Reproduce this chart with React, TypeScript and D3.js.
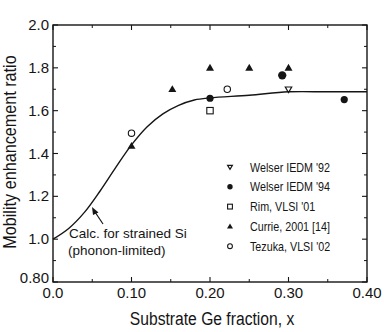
import React from "react";
import * as d3 from "d3";

const W = 384;
const H = 332;

const xTicks = [0.0, 0.1, 0.2, 0.3, 0.4];
const xTickLabels = ["0.0", "0.10", "0.20", "0.30", "0.40"];
const yTicks = [0.8, 1.0, 1.2, 1.4, 1.6, 1.8, 2.0];
const yTickLabels = ["0.80", "1.0", "1.2", "1.4", "1.6", "1.8", "2.0"];

// Calculated curve (phonon-limited strained Si)
const calcX = [0, 0.02, 0.04, 0.06, 0.08, 0.1, 0.12, 0.14, 0.16, 0.18, 0.2, 0.25, 0.3, 0.35, 0.4];
const calcY = [1.0, 1.05, 1.125, 1.225, 1.335, 1.44, 1.525, 1.585, 1.625, 1.65, 1.66, 1.672, 1.688, 1.688, 1.688];

const welser92X = [0.3];
const welser92Y = [1.7];
const welser94X = [0.2, 0.292, 0.371];
const welser94Y = [1.658, 1.765, 1.652];
const rimX = [0.2];
const rimY = [1.6];
const currieX = [0.1, 0.152, 0.2, 0.25, 0.3];
const currieY = [1.435, 1.7, 1.8, 1.8, 1.8];
const tezukaX = [0.1, 0.222];
const tezukaY = [1.495, 1.7];

const legendLabels = [
  "Welser IEDM '92",
  "Welser IEDM '94",
  "Rim, VLSI '01",
  "Currie, 2001 [14]",
  "Tezuka, VLSI '02",
];

const FONT = "Arial, 'Liberation Sans', sans-serif";
const INK = "#151515";

const x = d3.scaleLinear().domain([0, 0.4]).range([53, 367]);
const y = d3.scaleLinear().domain([0.8, 2.0]).range([282, 25]);

function NText({
  tx,
  ty,
  sx = 1,
  rot = 0,
  size,
  anchor = "start",
  children,
}: {
  tx: number;
  ty: number;
  sx?: number;
  rot?: number;
  size: number;
  anchor?: string;
  children: React.ReactNode;
}) {
  return (
    <g transform={`translate(${tx},${ty}) rotate(${rot}) scale(${sx},1)`}>
      <text x={0} y={0} textAnchor={anchor as any} fontFamily={FONT} fontSize={size} fill={INK}>
        {children}
      </text>
    </g>
  );
}

function Marker({ kind, cx, cy, s = 1 }: { kind: string; cx: number; cy: number; s?: number }) {
  if (kind === "v") {
    const r = 3.2 * s;
    return (
      <path
        d={`M${cx - r},${cy - r * 0.7} L${cx + r},${cy - r * 0.7} L${cx},${cy + r}Z`}
        fill="none"
        stroke={INK}
        strokeWidth={1.2}
      />
    );
  }
  if (kind === "fc") return <circle cx={cx} cy={cy} r={3.6 * s} fill={INK} />;
  if (kind === "sq") {
    const r = 3.2 * s;
    return <rect x={cx - r} y={cy - r} width={2 * r} height={2 * r} fill="white" stroke={INK} strokeWidth={1.1} />;
  }
  if (kind === "tri") {
    const r = 4 * s;
    return <path d={`M${cx},${cy - r} L${cx + r},${cy + r * 0.7} L${cx - r},${cy + r * 0.7}Z`} fill={INK} />;
  }
  return <circle cx={cx} cy={cy} r={3.2 * s} fill="white" stroke={INK} strokeWidth={1.1} />;
}

export default function App() {
  const line = d3
    .line<number>()
    .x((_, i) => x(calcX[i]))
    .y((d) => y(d))
    .curve(d3.curveCatmullRom.alpha(0.5));
  const calcPath = line(calcY) || "";

  const minorX = d3.range(0.05, 0.4, 0.1);
  const minorY = d3.range(0.9, 2.0, 0.2);

  const series = [
    { kind: "v", xs: welser92X, ys: welser92Y },
    { kind: "fc", xs: welser94X, ys: welser94Y },
    { kind: "sq", xs: rimX, ys: rimY },
    { kind: "tri", xs: currieX, ys: currieY },
    { kind: "oc", xs: tezukaX, ys: tezukaY },
  ];

  const legKinds = ["v", "fc", "sq", "tri", "oc"];

  return (
    <svg width={W} height={H} style={{ display: "block", position: "absolute", left: 0, top: 0, background: "white" }}>
      <rect x={0} y={0} width={W} height={H} fill="white" />
      {/* frame */}
      <rect x={x(0)} y={y(2.0)} width={x(0.4) - x(0)} height={y(0.8) - y(2.0)} fill="none" stroke={INK} strokeWidth={1.4} />
      {/* major ticks */}
      {xTicks.map((t) => (
        <g key={"xt" + t}>
          <line x1={x(t)} x2={x(t)} y1={y(0.8)} y2={y(0.8) - 5} stroke={INK} strokeWidth={1.1} />
          <line x1={x(t)} x2={x(t)} y1={y(2.0)} y2={y(2.0) + 5} stroke={INK} strokeWidth={1.1} />
        </g>
      ))}
      {minorX.map((t) => (
        <g key={"xm" + t}>
          <line x1={x(t)} x2={x(t)} y1={y(0.8)} y2={y(0.8) - 3} stroke={INK} strokeWidth={1} />
          <line x1={x(t)} x2={x(t)} y1={y(2.0)} y2={y(2.0) + 3} stroke={INK} strokeWidth={1} />
        </g>
      ))}
      {yTicks.map((t) => (
        <g key={"yt" + t}>
          <line x1={x(0)} x2={x(0) + 5} y1={y(t)} y2={y(t)} stroke={INK} strokeWidth={1.1} />
          <line x1={x(0.4)} x2={x(0.4) - 5} y1={y(t)} y2={y(t)} stroke={INK} strokeWidth={1.1} />
        </g>
      ))}
      {minorY.map((t) => (
        <g key={"ym" + t}>
          <line x1={x(0)} x2={x(0) + 3} y1={y(t)} y2={y(t)} stroke={INK} strokeWidth={1} />
          <line x1={x(0.4)} x2={x(0.4) - 3} y1={y(t)} y2={y(t)} stroke={INK} strokeWidth={1} />
        </g>
      ))}
      {/* tick labels */}
      {xTicks.map((t, i) => (
        <text key={"xl" + t} x={x(t)} y={298} textAnchor="middle" fontFamily={FONT} fontSize={15} fill={INK}>
          {xTickLabels[i]}
        </text>
      ))}
      {yTicks.map((t, i) => (
        <text
          key={"yl" + t}
          x={49}
          y={y(t) + 5 - (i === 0 ? 4 : 0)}
          textAnchor="end"
          fontFamily={FONT}
          fontSize={15}
          fill={INK}
        >
          {yTickLabels[i]}
        </text>
      ))}
      {/* axis titles */}
      <NText tx={212} ty={325} sx={0.87} size={18} anchor="middle">
        Substrate Ge fraction, x
      </NText>
      <NText tx={16} ty={152} rot={-90} sx={0.9} size={18} anchor="middle">
        Mobility enhancement ratio
      </NText>
      {/* calc curve */}
      <path d={calcPath} fill="none" stroke={INK} strokeWidth={1.4} />
      {/* data */}
      {series.map((s) =>
        s.xs.map((xv, i) => (
          <Marker key={s.kind + i} kind={s.kind} cx={x(xv)} cy={y(s.ys[i])} s={s.kind === "fc" && i === 1 ? 1.15 : 1} />
        ))
      )}
      {/* annotation */}
      <line x1={103} y1={224} x2={95} y2={212} stroke={INK} strokeWidth={1.2} />
      <path d="M92,207 L98.5,212.5 L93,215Z" fill={INK} />
      <NText tx={69} ty={238} size={13.5}>
        Calc. for strained Si
      </NText>
      <NText tx={68} ty={255} size={13.5}>
        (phonon-limited)
      </NText>
      {/* legend */}
      {legendLabels.map((lab, i) => {
        const cy = 167 + i * 19.8;
        return (
          <g key={lab}>
            <Marker kind={legKinds[i]} cx={230} cy={cy} s={0.75} />
            <NText tx={250} ty={cy + 4.5} sx={0.86} size={12.5}>
              {lab}
            </NText>
          </g>
        );
      })}
    </svg>
  );
}
